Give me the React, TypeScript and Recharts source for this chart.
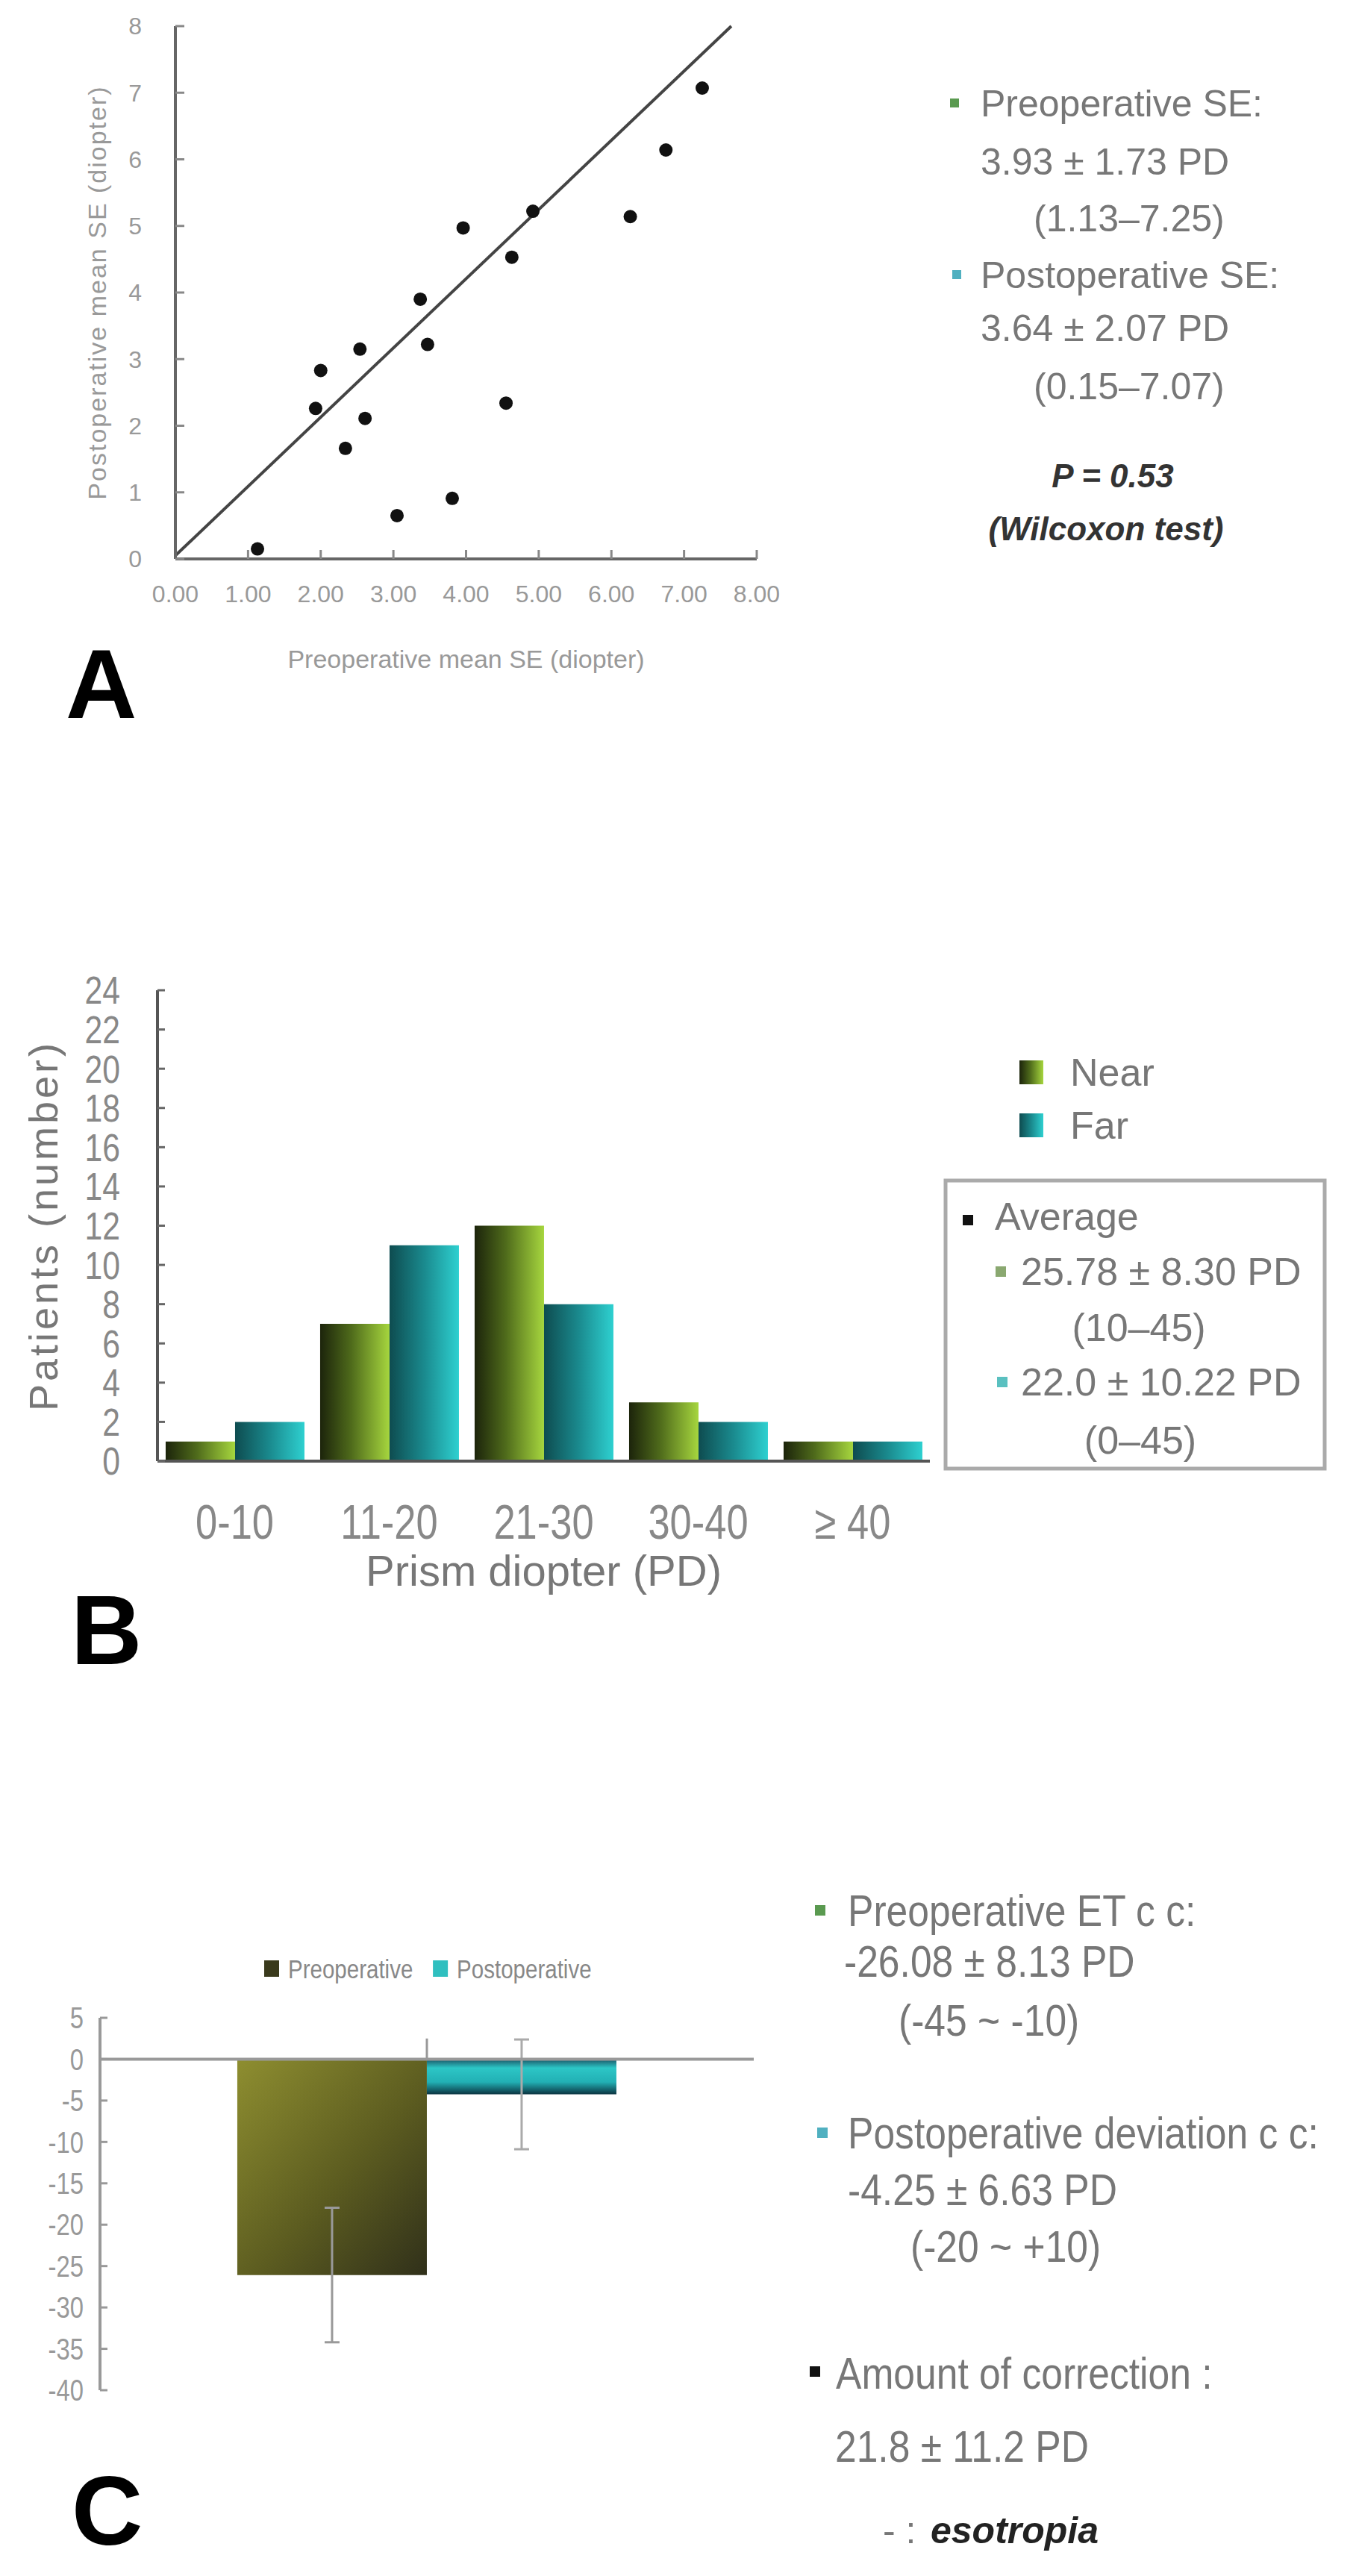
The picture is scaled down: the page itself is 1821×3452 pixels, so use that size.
import React from "react";
import {
  ScatterChart,
  Scatter,
  BarChart,
  Bar,
  XAxis,
  YAxis,
  ReferenceLine,
  ErrorBar,
  Legend,
} from "recharts";

const SANS = "'Liberation Sans', Arial, sans-serif";
// no condensed face is installed, so narrow text is drawn by squeezing Liberation Sans
const SQUEEZE = 0.82;
const NOTE_SQUEEZE = 0.86;

// A: preoperative vs postoperative mean SE (diopter), one pair per patient
const preopSE = [1.13, 2.0, 1.93, 2.54, 2.61, 2.34, 3.05, 3.37, 3.47, 3.81, 3.96, 4.55, 4.63, 4.92, 6.26, 6.75, 7.25];
const postopSE = [0.15, 2.83, 2.26, 3.15, 2.11, 1.66, 0.65, 3.9, 3.22, 0.91, 4.97, 2.34, 4.53, 5.22, 5.14, 6.14, 7.07];
const seTicks = [0, 1, 2, 3, 4, 5, 6, 7, 8];
const trendLine = [
  { x: 0, y: 0.05 },
  { x: 7.65, y: 8 },
];

// B: distribution of prism diopters
const pdRanges = ["0-10", "11-20", "21-30", "30-40", "≥ 40"];
const nearCounts = [1, 7, 12, 3, 1];
const farCounts = [2, 11, 8, 2, 1];
const patientTicks = [0, 2, 4, 6, 8, 10, 12, 14, 16, 18, 20, 22, 24];
const distSeries = ["Near", "Far"];

// C: pre / post operative deviation
const devGroups = ["1"];
const preopDev = [-26.08];
const preopSD = [8.13];
const postopDev = [-4.25];
const postopSD = [6.63];
const devTicks = [5, 0, -5, -10, -15, -20, -25, -30, -35, -40];
const devSeries = ["Preoperative", "Postoperative"];

const scatterData = preopSE.map((x, i) => ({ x, y: postopSE[i] }));
const distData = pdRanges.map((range, i) => ({ range, near: nearCounts[i], far: farCounts[i] }));
const devData = devGroups.map((group, i) => ({
  group,
  pre: preopDev[i],
  preSD: preopSD[i],
  post: postopDev[i],
  postSD: postopSD[i],
}));

const Dot = (p: any) => <circle cx={p.cx} cy={p.cy} r={9} fill="#111" />;

// squeezed tick label for the bar charts
const narrowTick = (size: number, fill: string) => (p: any) => (
  <g transform={`translate(${p.x},${p.y}) scale(${SQUEEZE},1)`}>
    <text
      x={0}
      y={0}
      dy={p.verticalAnchor === "start" ? "0.71em" : "0.355em"}
      textAnchor={p.textAnchor}
      fontSize={size}
      fill={fill}
      fontFamily={SANS}
    >
      {p.payload.value}
    </text>
  </g>
);

const bySeries = (names: string[], payload: any[] = []) =>
  payload.slice().sort((a, b) => names.indexOf(a.value) - names.indexOf(b.value));

const SEScatter = () => (
  <ScatterChart width={1100} height={960} margin={{ top: 35, right: 86, bottom: 111, left: 135 }}>
    <XAxis
      type="number"
      dataKey="x"
      domain={[0, 8]}
      ticks={seTicks}
      interval={0}
      tickFormatter={(v: number) => v.toFixed(2)}
      height={100}
      axisLine={{ stroke: "#666", strokeWidth: 4 }}
      tickLine={{ stroke: "#888", strokeWidth: 3 }}
      tickSize={-12}
      tickMargin={47}
      tick={{ fill: "#999", fontSize: 32, fontFamily: SANS }}
      label={{
        value: "Preoperative mean SE (diopter)",
        position: "bottom",
        offset: 22,
        fill: "#999",
        fontSize: 34,
        fontFamily: SANS,
      }}
    />
    <YAxis
      type="number"
      dataKey="y"
      domain={[0, 8]}
      ticks={seTicks}
      interval={0}
      width={100}
      axisLine={{ stroke: "#666", strokeWidth: 4 }}
      tickLine={{ stroke: "#888", strokeWidth: 3 }}
      tickSize={-12}
      tickMargin={57}
      tick={{ fill: "#999", fontSize: 32, fontFamily: SANS }}
      label={{
        value: "Postoperative mean SE (diopter)",
        angle: -90,
        position: "insideLeft",
        offset: -5,
        fill: "#999",
        fontSize: 34,
        fontFamily: SANS,
        style: { textAnchor: "middle", letterSpacing: 2 },
      }}
    />
    <ReferenceLine segment={trendLine} stroke="#444" strokeWidth={4} ifOverflow="visible" />
    <Scatter data={scatterData} shape={Dot} isAnimationActive={false} />
  </ScatterChart>
);

const distLegend = (props: any) => (
  <div>
    {bySeries(distSeries, props.payload).map((e: any) => (
      <div key={e.value} style={{ display: "flex", alignItems: "center", height: 71 }}>
        <svg width={32} height={32}>
          <rect width={32} height={32} fill={e.color} />
        </svg>
        <span style={{ marginLeft: 36, fontSize: 52, color: "#777", fontFamily: SANS }}>{e.value}</span>
      </div>
    ))}
  </div>
);

const DistributionBars = () => (
  <BarChart
    width={1821}
    height={950}
    data={distData}
    margin={{ top: 77, right: 575, bottom: 122, left: 91 }}
    barCategoryGap="5.3%"
    barGap={0}
  >
    <defs>
      <linearGradient id="nearGrad" x1="0" y1="0" x2="1" y2="0">
        <stop offset="0%" stopColor="#1c240b" />
        <stop offset="45%" stopColor="#4f6b1b" />
        <stop offset="100%" stopColor="#a6d63e" />
      </linearGradient>
      <linearGradient id="farGrad" x1="0" y1="0" x2="1" y2="0">
        <stop offset="0%" stopColor="#0e4c50" />
        <stop offset="50%" stopColor="#1a8a8e" />
        <stop offset="100%" stopColor="#2ed0d0" />
      </linearGradient>
    </defs>
    <XAxis
      dataKey="range"
      height={120}
      interval={0}
      axisLine={{ stroke: "#555", strokeWidth: 4 }}
      tickLine={false}
      tickMargin={53}
      tick={narrowTick(64, "#888")}
      label={{ value: "Prism diopter (PD)", position: "bottom", offset: 6, fill: "#777", fontSize: 58, fontFamily: SANS }}
    />
    <YAxis
      domain={[0, 24]}
      ticks={patientTicks}
      interval={0}
      width={120}
      axisLine={{ stroke: "#555", strokeWidth: 4 }}
      tickLine={{ stroke: "#666", strokeWidth: 3 }}
      tickSize={-10}
      tickMargin={60}
      tick={narrowTick(52, "#888")}
      label={{
        value: "Patients (number)",
        angle: -90,
        position: "insideLeft",
        offset: -33,
        fill: "#777",
        fontSize: 54,
        fontFamily: SANS,
        style: { textAnchor: "middle", letterSpacing: 4 },
      }}
    />
    <Legend
      layout="vertical"
      align="center"
      verticalAlign="middle"
      wrapperStyle={{ left: 1366, top: 151, width: "auto" }}
      content={distLegend}
    />
    <Bar dataKey="near" name="Near" fill="url(#nearGrad)" isAnimationActive={false} />
    <Bar dataKey="far" name="Far" fill="url(#farGrad)" isAnimationActive={false} />
  </BarChart>
);

const devSwatch: Record<string, string> = { Preoperative: "#3a3a1c", Postoperative: "#2fbfbf" };

const devLegend = (props: any) => {
  const items = bySeries(devSeries, props.payload);
  let cursor = 0;
  return (
    <svg width={460} height={40}>
      {items.map((e: any) => {
        const x = cursor;
        cursor += 33 + e.value.length * 36 * 0.5 * SQUEEZE + 16;
        return (
          <g key={e.value}>
            <rect x={x} y={9} width={20} height={22} fill={devSwatch[e.value]} />
            <g transform={`translate(${x + 32},20) scale(${SQUEEZE},1)`}>
              <text x={0} y={0} dy="0.355em" fontSize={36} fill="#888" fontFamily={SANS}>
                {e.value}
              </text>
            </g>
          </g>
        );
      })}
    </svg>
  );
};

const DeviationBars = () => (
  <BarChart
    width={1060}
    height={900}
    data={devData}
    margin={{ top: 254, right: 50, bottom: 147, left: 44 }}
    barCategoryGap="21%"
    barGap={0}
  >
    <defs>
      <linearGradient id="preGrad" x1="0" y1="0" x2="1" y2="1">
        <stop offset="0%" stopColor="#8e8e30" />
        <stop offset="55%" stopColor="#5c5c20" />
        <stop offset="100%" stopColor="#30301a" />
      </linearGradient>
      <linearGradient id="postGrad" x1="0" y1="0" x2="0" y2="1">
        <stop offset="0%" stopColor="#1b5566" />
        <stop offset="25%" stopColor="#2cc6c6" />
        <stop offset="65%" stopColor="#22b0b4" />
        <stop offset="100%" stopColor="#0b3340" />
      </linearGradient>
    </defs>
    <XAxis dataKey="group" hide />
    <YAxis
      domain={[-40, 5]}
      ticks={devTicks}
      interval={0}
      width={90}
      axisLine={{ stroke: "#999", strokeWidth: 4 }}
      tickLine={{ stroke: "#999", strokeWidth: 3 }}
      tickSize={-10}
      tickMargin={32}
      tick={narrowTick(40, "#999")}
    />
    <Legend
      align="center"
      verticalAlign="middle"
      wrapperStyle={{ left: 354, top: 168, width: "auto" }}
      content={devLegend}
    />
    <Bar dataKey="pre" name="Preoperative" fill="url(#preGrad)" isAnimationActive={false}>
      <ErrorBar dataKey="preSD" width={10} stroke="#999" strokeWidth={3} />
    </Bar>
    <Bar dataKey="post" name="Postoperative" fill="url(#postGrad)" isAnimationActive={false}>
      <ErrorBar dataKey="postSD" width={10} stroke="#aaa" strokeWidth={3} />
    </Bar>
    <ReferenceLine y={0} stroke="#999" strokeWidth={4} />
    <ReferenceLine
      segment={[
        { x: devGroups[0], y: 0 },
        { x: devGroups[0], y: 2.5 },
      ]}
      stroke="#999"
      strokeWidth={3}
    />
  </BarChart>
);

type TP = {
  x: number;
  y: number;
  size?: number;
  fill?: string;
  bold?: boolean;
  italic?: boolean;
  narrow?: boolean;
  anchor?: "start" | "middle" | "end";
  children: React.ReactNode;
};

const T = ({ x, y, size = 50, fill = "#777", bold, italic, narrow, anchor = "start", children }: TP) => (
  <g transform={`translate(${x},${y}) scale(${narrow ? NOTE_SQUEEZE : 1},1)`}>
    <text
      x={0}
      y={0}
      dy="0.355em"
      fontSize={size}
      fill={fill}
      fontFamily={SANS}
      fontWeight={bold ? 700 : 400}
      fontStyle={italic ? "italic" : "normal"}
      textAnchor={anchor}
    >
      {children}
    </text>
  </g>
);

const Sq = ({ x, y, s = 12, fill }: { x: number; y: number; s?: number; fill: string }) => (
  <rect x={x - s / 2} y={y - s / 2} width={s} height={s} fill={fill} />
);

const Notes = () => (
  <svg width={1821} height={3452} style={{ position: "absolute", left: 0, top: 0 }}>
    {/* panel A */}
    <Sq x={1279} y={138} fill="#5a9a50" />
    <T x={1314} y={138}>Preoperative SE:</T>
    <T x={1314} y={216}>3.93 ± 1.73 PD</T>
    <T x={1385} y={292}>(1.13–7.25)</T>
    <Sq x={1282} y={368} fill="#50b0c0" />
    <T x={1314} y={368}>Postoperative SE:</T>
    <T x={1314} y={439}>3.64 ± 2.07 PD</T>
    <T x={1385} y={517}>(0.15–7.07)</T>
    <T x={1491} y={637} size={44} fill="#333" bold italic anchor="middle">P = 0.53</T>
    <T x={1482} y={708} size={44} fill="#333" bold italic anchor="middle">(Wilcoxon test)</T>
    <text x={88} y={962} fontSize={132} fontWeight={700} fontFamily={SANS} fill="#000">A</text>

    {/* panel B */}
    <rect x={1267} y={1582} width={508} height={386} fill="none" stroke="#aaa" strokeWidth={5} />
    <Sq x={1297} y={1635} s={14} fill="#111" />
    <T x={1333} y={1630} size={52}>Average</T>
    <Sq x={1341} y={1704} s={14} fill="#8aa870" />
    <T x={1368} y={1704} size={52}>25.78 ± 8.30 PD</T>
    <T x={1526} y={1779} size={52} anchor="middle">(10–45)</T>
    <Sq x={1343} y={1852} s={14} fill="#5ac0c0" />
    <T x={1368} y={1852} size={52}>22.0 ± 10.22 PD</T>
    <T x={1528} y={1930} size={52} anchor="middle">(0–45)</T>
    <text x={95} y={2230} fontSize={132} fontWeight={700} fontFamily={SANS} fill="#000">B</text>

    {/* panel C */}
    <Sq x={1099} y={2560} s={14} fill="#5a9a50" />
    <T x={1136} y={2560} size={60} narrow>Preoperative ET c c:</T>
    <T x={1131} y={2628} size={60} narrow>-26.08 ± 8.13 PD</T>
    <T x={1204} y={2707} size={60} narrow>(-45 ~ -10)</T>
    <Sq x={1102} y={2858} s={14} fill="#50b0c0" />
    <T x={1136} y={2858} size={60} narrow>Postoperative deviation c c:</T>
    <T x={1136} y={2934} size={60} narrow>-4.25 ± 6.63 PD</T>
    <T x={1220} y={3010} size={60} narrow>(-20 ~ +10)</T>
    <Sq x={1092} y={3178} s={14} fill="#111" />
    <T x={1120} y={3180} size={60} narrow>Amount of correction :</T>
    <T x={1119} y={3278} size={60} narrow>21.8 ± 11.2 PD</T>
    <T x={1183} y={3390} size={50}>- :</T>
    <T x={1247} y={3390} size={50} fill="#222" bold italic>esotropia</T>
    <text x={96} y={3410} fontSize={132} fontWeight={700} fontFamily={SANS} fill="#000">C</text>
  </svg>
);

export default function App() {
  return (
    <div
      style={{
        position: "absolute",
        left: 0,
        top: 0,
        width: 1821,
        height: 3452,
        background: "#fff",
        overflow: "hidden",
      }}
    >
      <Notes />
      <div style={{ position: "absolute", left: 0, top: 0 }}>
        <SEScatter />
      </div>
      <div style={{ position: "absolute", left: 0, top: 1250 }}>
        <DistributionBars />
      </div>
      <div style={{ position: "absolute", left: 0, top: 2450 }}>
        <DeviationBars />
      </div>
    </div>
  );
}
